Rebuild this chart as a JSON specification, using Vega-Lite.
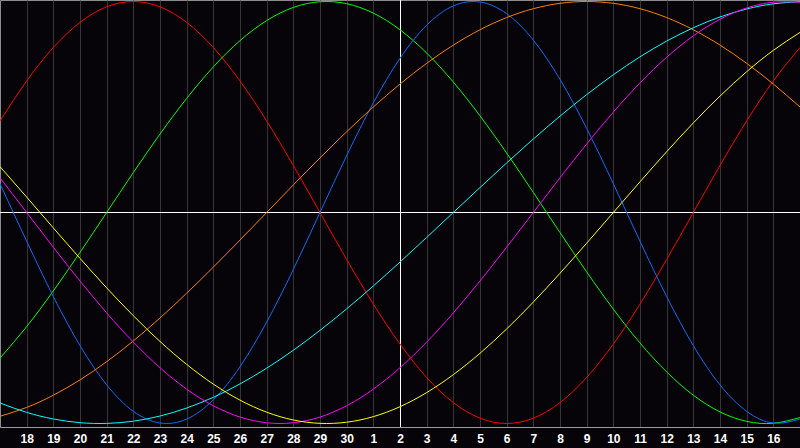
{
  "$schema": "https://vega.github.io/schema/vega-lite/v6.json",
  "width": 800,
  "height": 427,
  "autosize": {"type": "none"},
  "padding": {"left": 0, "top": 0, "right": 0, "bottom": 21},
  "background": "#060408",
  "view": {"stroke": "#8c8c8c", "strokeWidth": 1, "fill": "#060408"},
  "config": {
    "axis": {"labelFont": "Liberation Sans", "labelFontWeight": "bold", "labelFontSize": 12, "labelColor": "#ffffff"},
    "axisX": {"labelOverlap": false, "labelBound": false, "labelFlush": false}
  },
  "datasets": {
    "curves": [
      {"t":0,"Physical":0.1362,"Emotional":0.4339,"Intellectual":-0.6901,"Intuitive":0.1646,"Aesthetic":0.2174,"Awareness":-0.9659,"Spiritual":-0.9028},
      {"t":1,"Physical":-0.1362,"Emotional":0.6235,"Intellectual":-0.5406,"Intuitive":0,"Aesthetic":0.0730,"Awareness":-0.9239,"Spiritual":-0.9473},
      {"t":2,"Physical":-0.3984,"Emotional":0.7818,"Intellectual":-0.3717,"Intuitive":-0.1646,"Aesthetic":-0.0730,"Awareness":-0.8660,"Spiritual":-0.9785},
      {"t":3,"Physical":-0.6310,"Emotional":0.9010,"Intellectual":-0.1893,"Intuitive":-0.3247,"Aesthetic":-0.2174,"Awareness":-0.7934,"Spiritual":-0.9961},
      {"t":4,"Physical":-0.8170,"Emotional":0.9749,"Intellectual":0,"Intuitive":-0.4759,"Aesthetic":-0.3572,"Awareness":-0.7071,"Spiritual":-0.9996},
      {"t":5,"Physical":-0.9423,"Emotional":1,"Intellectual":0.1893,"Intuitive":-0.6142,"Aesthetic":-0.4894,"Awareness":-0.6088,"Spiritual":-0.9890},
      {"t":6,"Physical":-0.9977,"Emotional":0.9749,"Intellectual":0.3717,"Intuitive":-0.7357,"Aesthetic":-0.6111,"Awareness":-0.5,"Spiritual":-0.9646},
      {"t":7,"Physical":-0.9791,"Emotional":0.9010,"Intellectual":0.5406,"Intuitive":-0.8372,"Aesthetic":-0.7200,"Awareness":-0.3827,"Spiritual":-0.9267},
      {"t":8,"Physical":-0.8879,"Emotional":0.7818,"Intellectual":0.6901,"Intuitive":-0.9158,"Aesthetic":-0.8134,"Awareness":-0.2588,"Spiritual":-0.8757},
      {"t":9,"Physical":-0.7308,"Emotional":0.6235,"Intellectual":0.8146,"Intuitive":-0.9694,"Aesthetic":-0.8893,"Awareness":-0.1305,"Spiritual":-0.8125},
      {"t":10,"Physical":-0.5196,"Emotional":0.4339,"Intellectual":0.9096,"Intuitive":-0.9966,"Aesthetic":-0.9464,"Awareness":0,"Spiritual":-0.7378},
      {"t":11,"Physical":-0.2698,"Emotional":0.2225,"Intellectual":0.9718,"Intuitive":-0.9966,"Aesthetic":-0.9834,"Awareness":0.1305,"Spiritual":-0.6529},
      {"t":12,"Physical":0,"Emotional":0,"Intellectual":0.9989,"Intuitive":-0.9694,"Aesthetic":-0.9993,"Awareness":0.2588,"Spiritual":-0.5585},
      {"t":13,"Physical":0.2698,"Emotional":-0.2225,"Intellectual":0.9898,"Intuitive":-0.9158,"Aesthetic":-0.9940,"Awareness":0.3827,"Spiritual":-0.4566},
      {"t":14,"Physical":0.5196,"Emotional":-0.4339,"Intellectual":0.9450,"Intuitive":-0.8372,"Aesthetic":-0.9675,"Awareness":0.5,"Spiritual":-0.3482},
      {"t":15,"Physical":0.7308,"Emotional":-0.6235,"Intellectual":0.8660,"Intuitive":-0.7357,"Aesthetic":-0.9204,"Awareness":0.6088,"Spiritual":-0.2348},
      {"t":16,"Physical":0.8879,"Emotional":-0.7818,"Intellectual":0.7557,"Intuitive":-0.6142,"Aesthetic":-0.8535,"Awareness":0.7071,"Spiritual":-0.1182},
      {"t":17,"Physical":0.9791,"Emotional":-0.9010,"Intellectual":0.6182,"Intuitive":-0.4759,"Aesthetic":-0.7685,"Awareness":0.7934,"Spiritual":0},
      {"t":18,"Physical":0.9977,"Emotional":-0.9749,"Intellectual":0.4582,"Intuitive":-0.3247,"Aesthetic":-0.6673,"Awareness":0.8660,"Spiritual":0.1182},
      {"t":19,"Physical":0.9423,"Emotional":-1,"Intellectual":0.2817,"Intuitive":-0.1646,"Aesthetic":-0.5518,"Awareness":0.9239,"Spiritual":0.2348},
      {"t":20,"Physical":0.8170,"Emotional":-0.9749,"Intellectual":0.0951,"Intuitive":0,"Aesthetic":-0.4245,"Awareness":0.9659,"Spiritual":0.3482},
      {"t":21,"Physical":0.6310,"Emotional":-0.9010,"Intellectual":-0.0951,"Intuitive":0.1646,"Aesthetic":-0.2881,"Awareness":0.9914,"Spiritual":0.4566},
      {"t":22,"Physical":0.3984,"Emotional":-0.7818,"Intellectual":-0.2817,"Intuitive":0.3247,"Aesthetic":-0.1456,"Awareness":1,"Spiritual":0.5585},
      {"t":23,"Physical":0.1362,"Emotional":-0.6235,"Intellectual":-0.4582,"Intuitive":0.4759,"Aesthetic":0,"Awareness":0.9914,"Spiritual":0.6529},
      {"t":24,"Physical":-0.1362,"Emotional":-0.4339,"Intellectual":-0.6182,"Intuitive":0.6142,"Aesthetic":0.1456,"Awareness":0.9659,"Spiritual":0.7378},
      {"t":25,"Physical":-0.3984,"Emotional":-0.2225,"Intellectual":-0.7557,"Intuitive":0.7357,"Aesthetic":0.2881,"Awareness":0.9239,"Spiritual":0.8125},
      {"t":26,"Physical":-0.6310,"Emotional":0,"Intellectual":-0.8660,"Intuitive":0.8372,"Aesthetic":0.4245,"Awareness":0.8660,"Spiritual":0.8757},
      {"t":27,"Physical":-0.8170,"Emotional":0.2225,"Intellectual":-0.9450,"Intuitive":0.9158,"Aesthetic":0.5518,"Awareness":0.7934,"Spiritual":0.9267},
      {"t":28,"Physical":-0.9423,"Emotional":0.4339,"Intellectual":-0.9898,"Intuitive":0.9694,"Aesthetic":0.6673,"Awareness":0.7071,"Spiritual":0.9646},
      {"t":29,"Physical":-0.9977,"Emotional":0.6235,"Intellectual":-0.9989,"Intuitive":0.9966,"Aesthetic":0.7685,"Awareness":0.6088,"Spiritual":0.9890},
      {"t":30,"Physical":-0.9791,"Emotional":0.7818,"Intellectual":-0.9718,"Intuitive":0.9966,"Aesthetic":0.8535,"Awareness":0.5,"Spiritual":0.9996}
    ],
    "centerX": [{"t": 15}],
    "centerY": [{"v": 0}]
  },
  "layer": [
    {
      "data": {"name": "centerX"},
      "mark": {"type": "rule", "color": "#ffffff", "strokeWidth": 1, "xOffset": 0.5},
      "encoding": {
        "x": {
          "field": "t", "type": "quantitative",
          "scale": {"domain": [0, 30], "nice": false, "zero": false},
          "axis": {
            "values": [1,2,3,4,5,6,7,8,9,10,11,12,13,14,15,16,17,18,19,20,21,22,23,24,25,26,27,28,29],
            "labelExpr": "'' + (datum.value <= 13 ? datum.value + 17 : datum.value - 13)",
            "grid": true, "gridColor": "#353535", "gridWidth": 1,
            "ticks": false, "domain": true, "domainColor": "#9a9a9a",
            "labelPadding": 6, "labelOverlap": false, "labelBound": false, "labelFlush": false,
            "title": null, "zindex": 0
          }
        }
      }
    },
    {
      "data": {"name": "centerY"},
      "mark": {"type": "rule", "color": "#ffffff", "strokeWidth": 1},
      "encoding": {
        "y": {"field": "v", "type": "quantitative", "scale": {"domain": [-1.0166, 1.0071], "nice": false, "zero": false}, "axis": null}
      }
    },
    {
      "data": {"name": "curves"},
      "transform": [
        {"fold": ["Emotional", "Intellectual", "Physical", "Awareness", "Spiritual", "Intuitive", "Aesthetic"], "as": ["series", "v"]}
      ],
      "mark": {"type": "line", "strokeWidth": 1, "interpolate": "natural", "clip": true},
      "encoding": {
        "x": {
          "field": "t", "type": "quantitative",
          "axis": {
            "values": [1,2,3,4,5,6,7,8,9,10,11,12,13,14,15,16,17,18,19,20,21,22,23,24,25,26,27,28,29],
            "labelExpr": "'' + (datum.value <= 13 ? datum.value + 17 : datum.value - 13)",
            "grid": true, "gridColor": "#353535", "gridWidth": 1,
            "ticks": false, "domain": true, "domainColor": "#9a9a9a",
            "labelPadding": 6, "labelOverlap": false, "labelBound": false, "labelFlush": false,
            "title": null, "zindex": 0
          }
        },
        "y": {"field": "v", "type": "quantitative"},
        "color": {
          "field": "series", "type": "nominal",
          "scale": {
            "domain": ["Emotional", "Intellectual", "Physical", "Awareness", "Spiritual", "Intuitive", "Aesthetic"],
            "range": ["#ff0000", "#00ff00", "#0a6cff", "#ff8000", "#00ffff", "#ff00ff", "#ffff00"]
          },
          "legend": null
        },
        "order": {"field": "t", "type": "quantitative"}
      }
    }
  ]
}
